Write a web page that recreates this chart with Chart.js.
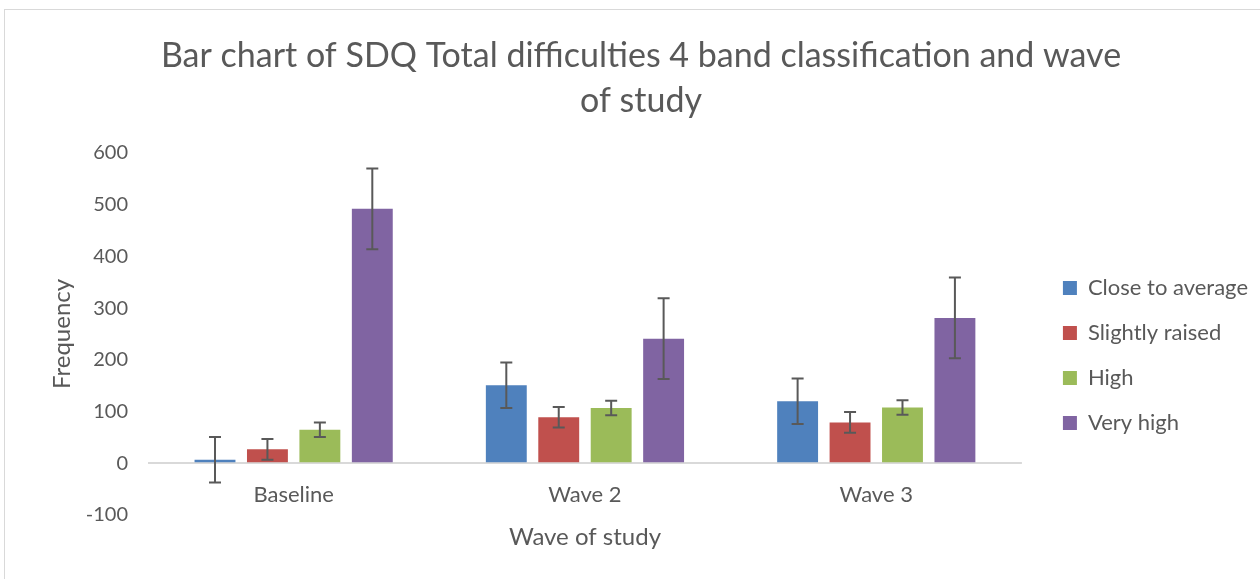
<!DOCTYPE html>
<html>
<head>
<meta charset="utf-8">
<script src="https://cdn.jsdelivr.net/npm/chart.js@4/dist/chart.umd.min.js"></script>
<style>
  body { margin: 0; background: #fff; overflow: hidden; }
  #frame { position: absolute; left: 4px; top: 9px; width: 1300px; height: 700px; border: 1px solid #d9d9d9; pointer-events: none; }
  #chart { position: absolute; left: 0; top: 0; }
</style>
</head>
<body>
<canvas id="chart" width="1260" height="579"></canvas>
<div id="frame"></div>
<script>
// categories and series
const waves = ["Baseline", "Wave 2", "Wave 3"];
const closeToAverage = [7, 151, 120];
const slightlyRaised = [27, 89, 79];
const high = [65, 107, 108];
const veryHigh = [492, 241, 281];

// error bar half-widths per series
const closeErr = [44, 44, 44];
const slightlyErr = [20, 20, 20];
const highErr = [14, 14, 14];
const veryHighErr = [78, 78, 78];

const grey = "#595959";
Chart.defaults.font.family = "Lato";
Chart.defaults.color = grey;

// draws whiskers on top of each bar
const errorBars = {
  id: "errorBars",
  afterDatasetsDraw(chart) {
    const { ctx } = chart;
    const y = chart.scales.y;
    ctx.save();
    ctx.strokeStyle = grey;
    ctx.lineWidth = 2;
    chart.data.datasets.forEach((ds, i) => {
      chart.getDatasetMeta(i).data.forEach((bar, j) => {
        const v = ds.data[j], e = ds.errors[j];
        const top = y.getPixelForValue(v + e);
        const bottom = y.getPixelForValue(v - e);
        ctx.beginPath();
        ctx.moveTo(bar.x, top); ctx.lineTo(bar.x, bottom);
        ctx.moveTo(bar.x - 6, top); ctx.lineTo(bar.x + 6, top);
        ctx.moveTo(bar.x - 6, bottom); ctx.lineTo(bar.x + 6, bottom);
        ctx.stroke();
      });
    });
    ctx.restore();
  }
};

new Chart(document.getElementById("chart"), {
  type: "bar",
  data: {
    labels: waves,
    datasets: [
      { label: "Close to average", data: closeToAverage, errors: closeErr, backgroundColor: "#4F81BD" },
      { label: "Slightly raised", data: slightlyRaised, errors: slightlyErr, backgroundColor: "#C0504D" },
      { label: "High", data: high, errors: highErr, backgroundColor: "#9BBB59" },
      { label: "Very high", data: veryHigh, errors: veryHighErr, backgroundColor: "#8064A2" }
    ]
  },
  options: {
    responsive: false,
    animation: false,
    categoryPercentage: 0.72,
    barPercentage: 0.78,
    layout: { padding: { left: 24, right: 2, top: 0, bottom: 19.6 } },
    scales: {
      x: {
        position: { y: 0 },
        grid: { display: false, drawTicks: false },
        border: { display: false },
        ticks: { font: { size: 22 }, color: grey, padding: 18 },
        afterFit: (scale) => { scale.height = 0; }
      },
      y: {
        min: -100,
        max: 600,
        ticks: { stepSize: 100, font: { size: 20 }, color: grey, padding: 20 },
        grid: {
          drawTicks: false,
          lineWidth: 2,
          color: (c) => (c.tick && c.tick.value === 0 ? "#d9d9d9" : "rgba(0,0,0,0)")
        },
        border: { display: false },
        title: { display: true, text: "Frequency", font: { size: 24 }, color: grey, padding: { top: 23.6, bottom: 0 } },
        afterFit: (scale) => { scale.width = 124; }
      },
      // empty spacer between plot and legend
      gap: {
        type: "linear",
        position: "right",
        grid: { display: false },
        border: { display: false },
        ticks: { display: false },
        afterFit: (scale) => { scale.width = 18; }
      }
    },
    plugins: {
      title: {
        display: true,
        text: ["Bar chart of SDQ Total difficulties 4 band classification and wave", "of study"],
        font: { size: 34, weight: "normal", lineHeight: 1.32 },
        color: grey,
        padding: { top: 34, bottom: 29.2 }
      },
      subtitle: {
        display: true,
        position: "bottom",
        fullSize: false,
        text: "Wave of study",
        font: { size: 24, weight: "normal" },
        color: grey,
        padding: { top: 7.6, bottom: 8 }
      },
      legend: {
        position: "right",
        maxWidth: 300,
        title: { display: true, text: "", padding: { top: 68.6, bottom: 68.6 } },
        labels: { boxWidth: 14, boxHeight: 14, font: { size: 22 }, color: grey, padding: 23 }
      },
      tooltip: { enabled: false }
    }
  },
  plugins: [errorBars]
});
</script>
</body>
</html>
